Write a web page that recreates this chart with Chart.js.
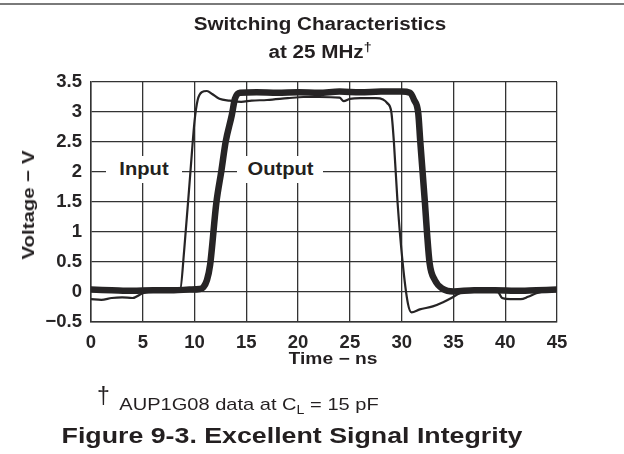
<!DOCTYPE html>
<html>
<head>
<meta charset="utf-8">
<script src="https://cdn.jsdelivr.net/npm/chart.js@4.4.1/dist/chart.umd.min.js"></script>
<style>
  html, body { margin: 0; background: #fff; overflow: hidden; }
  #wrap { position: relative; width: 624px; height: 454px; overflow: hidden;
          border-top: 2px solid #7a7a7a; margin-top: 3px; box-sizing: border-box;
          font-family: "Liberation Sans", Arial, Helvetica, sans-serif; color: #231f20; }
  #chart { position: absolute; left: 0; top: -5px; }
  .txt { position: absolute; white-space: nowrap; transform-origin: center center; }
  .b { font-weight: bold; }
  .tag { position: absolute; background: #fff; font-weight: bold; font-size: 18px;
         text-align: center; line-height: 27px; height: 27px; }
  .tag span { display: inline-block; transform: scaleX(1.12); }
</style>
</head>
<body>
<div id="wrap">
  <canvas id="chart" width="624" height="454"></canvas>

  <div class="txt b" style="left:320px;top:9px;font-size:17.5px;transform:translateX(-50%) scaleX(1.18);">Switching Characteristics</div>
  <div class="txt b" style="left:320px;top:35px;font-size:17.5px;transform:translateX(-50%) scaleX(1.18);">at 25 MHz<sup style="font-size:12px;">†</sup></div>

  <div class="txt b" style="left:29px;top:200px;font-size:17px;transform:translate(-50%,-50%) rotate(-90deg) scaleX(1.2);">Voltage − V</div>
  <div class="txt b" style="left:333px;top:345px;font-size:16px;transform:translateX(-50%) scaleX(1.2);">Time − ns</div>

  <div class="tag" style="left:106px;top:151px;width:76px;"><span>Input</span></div>
  <div class="tag" style="left:237px;top:151px;width:86px;"><span>Output</span></div>

  <div class="txt" style="left:97px;top:378px;font-size:23px;">†</div>
  <div class="txt" style="left:249px;top:390px;font-size:17px;transform:translateX(-50%) scaleX(1.18);">AUP1G08 data at C<sub style="font-size:12px;">L</sub> = 15 pF</div>

  <div class="txt b" style="left:292px;top:418px;font-size:22.3px;transform:translateX(-50%) scaleX(1.2);">Figure 9-3. Excellent Signal Integrity</div>
</div>

<script>
// thin trace: input, thick trace: output (time in ns, voltage in V)
const inputTime = [0, 1, 2, 3, 4, 5, 6, 7, 8, 8.6, 9.0, 9.6, 10.0, 10.3, 10.7, 11.2, 11.7, 12.4, 13.4, 14.5, 15.5, 17, 19, 20.5, 22, 24, 24.4, 25, 26, 27.5, 28.2, 28.6, 29.0, 29.25, 29.6, 30.1, 30.6, 30.95, 31.75, 33.0, 34.0, 34.8, 35.6, 36.5, 38, 39.3, 39.7, 40.5, 41.5, 42.2, 43, 44, 45];
const inputVolt = [-0.12, -0.13, -0.1, -0.09, -0.1, -0.02, 0.01, 0.02, 0.02, 0.03, 0.7, 2.0, 2.85, 3.2, 3.33, 3.35, 3.3, 3.22, 3.19, 3.17, 3.19, 3.2, 3.23, 3.25, 3.25, 3.24, 3.18, 3.22, 3.23, 3.23, 3.21, 3.15, 3.0, 2.5, 1.5, 0.48, -0.19, -0.34, -0.29, -0.24, -0.17, -0.1, -0.02, 0.02, 0.03, 0.0, -0.1, -0.12, -0.12, -0.08, -0.02, 0.02, 0.03];

const outputTime = [0, 2, 4, 6, 8, 9.5, 10.5, 10.85, 11.2, 11.5, 12.1, 12.6, 13.0, 13.6, 13.9, 14.4, 16, 18, 20, 22, 24, 26, 28, 30, 30.8, 31.2, 31.6, 31.8, 32.25, 32.45, 32.7, 33.2, 34.0, 35, 37, 39, 41, 43, 45];
const outputVolt = [0.04, 0.03, 0.02, 0.03, 0.03, 0.04, 0.05, 0.08, 0.2, 0.45, 1.48, 2.03, 2.5, 2.95, 3.22, 3.32, 3.33, 3.32, 3.33, 3.32, 3.34, 3.33, 3.34, 3.34, 3.32, 3.2, 2.98, 2.5, 1.48, 0.98, 0.48, 0.2, 0.05, 0.01, 0.03, 0.03, 0.02, 0.03, 0.04];

const xTicks = [0, 5, 10, 15, 20, 25, 30, 35, 40, 45];
const yTicks = [-0.5, 0, 0.5, 1, 1.5, 2, 2.5, 3, 3.5];
const yTickLabels = ['−0.5', '0', '0.5', '1', '1.5', '2', '2.5', '3', '3.5'];

const ink = '#262425';
const gridInk = '#333';
const tickFont = { family: '"Liberation Sans", Arial, sans-serif', size: 18.5, weight: 'bold' };

const toPoints = (ts, vs) => ts.map((t, i) => ({ x: t, y: vs[i] }));

new Chart(document.getElementById('chart'), {
  type: 'line',
  data: {
    datasets: [
      {
        label: 'Output',
        data: toPoints(outputTime, outputVolt),
        borderColor: ink,
        borderWidth: 6.5,
        cubicInterpolationMode: 'monotone',
        borderJoinStyle: 'round',
        borderCapStyle: 'round',
        pointRadius: 0
      },
      {
        label: 'Input',
        data: toPoints(inputTime, inputVolt),
        borderColor: ink,
        borderWidth: 2.2,
        cubicInterpolationMode: 'monotone',
        borderJoinStyle: 'round',
        pointRadius: 0
      }
    ]
  },
  options: {
    responsive: false,
    animation: false,
    layout: { padding: { left: 0, top: 82, right: 67, bottom: 82 } },
    plugins: { legend: { display: false }, tooltip: { enabled: false } },
    scales: {
      x: {
        type: 'linear',
        min: 0, max: 45,
        afterBuildTicks: s => { s.ticks = xTicks.map(v => ({ value: v })); },
        afterFit: s => { s.height = 50; },
        ticks: { color: ink, font: tickFont, padding: 10, maxRotation: 0 },
        grid: { color: gridInk, lineWidth: 1.3, drawTicks: false },
        border: { color: gridInk, width: 1.5 }
      },
      y: {
        min: -0.5, max: 3.5,
        afterBuildTicks: s => { s.ticks = yTicks.map(v => ({ value: v })); },
        afterFit: s => { s.width = 91; },
        ticks: {
          color: ink, font: tickFont, padding: 9,
          callback: (v, i) => yTickLabels[i]
        },
        grid: { color: gridInk, lineWidth: 1.3, drawTicks: false },
        border: { color: gridInk, width: 1.5 }
      }
    }
  }
});
</script>
</body>
</html>
